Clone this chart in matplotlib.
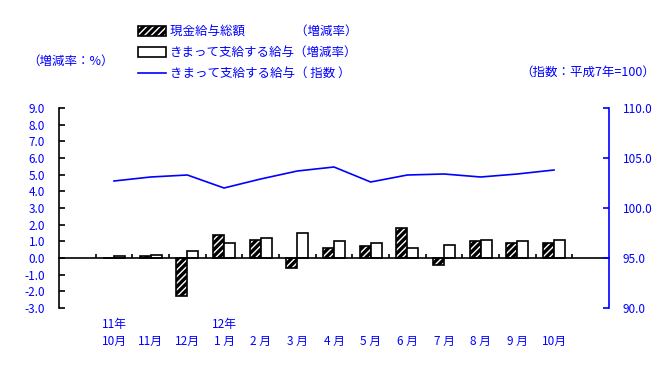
import matplotlib
matplotlib.use("Agg")
import matplotlib.pyplot as plt
import numpy as np
from matplotlib.patches import Patch
from matplotlib.lines import Line2D
from matplotlib.legend_handler import HandlerTuple

plt.rcParams['font.family'] = ['Noto Sans CJK JP', 'DejaVu Sans']
plt.rcParams['hatch.linewidth'] = 1.0

months = ['10月', '11月', '12月', '1 月', '2 月', '3 月', '4 月', '5 月',
          '6 月', '7 月', '8 月', '9 月', '10月']
years = ['11年', '', '', '12年', '', '', '', '', '', '', '', '', '']
cash_total = [0.0, 0.1, -2.3, 1.4, 1.1, -0.6, 0.6, 0.7, 1.8, -0.4, 1.0, 0.9, 0.9]
regular_rate = [0.1, 0.2, 0.4, 0.9, 1.2, 1.5, 1.0, 0.9, 0.6, 0.8, 1.1, 1.0, 1.1]
regular_index = [102.7, 103.1, 103.3, 102.0, 102.9, 103.7, 104.1, 102.6,
                 103.3, 103.4, 103.1, 103.4, 103.8]

blue = '#0000ff'
fig = plt.figure(figsize=(6.68, 3.83), dpi=100)
ax = fig.add_axes([59 / 668, 75 / 383, 550 / 668, 200 / 383])

# slots: one empty slot each side of the 13 months
x = np.arange(1, len(months) + 1) + 0.5
w = 0.3
ax.bar(x - w / 2, cash_total, w, color='black', edgecolor='white', hatch='/////', linewidth=0)
ax.bar(x - w / 2, cash_total, w, fill=False, edgecolor='black', linewidth=1.2)
ax.bar(x + w / 2, regular_rate, w, color='white', edgecolor='black', linewidth=1.2)

ax.set_xlim(0, 15)
ax.set_ylim(-3, 9)
ax.set_yticks(np.arange(-3, 10, 1))
ax.set_yticklabels(['%.1f' % v for v in np.arange(-3, 10, 1)], color=blue, fontsize=8.5)
ax.tick_params(axis='y', direction='in', length=4, width=1.2, pad=10)

for s in ['top', 'right']:
    ax.spines[s].set_visible(False)
ax.spines['left'].set_linewidth(1.2)
ax.spines['bottom'].set_position(('data', 0))
ax.spines['bottom'].set_linewidth(1.2)
ax.set_xticks(np.arange(1, 15))
ax.set_xticklabels([])
ax.tick_params(axis='x', direction='in', length=3, width=1.2)

# month labels below the plot, year marks above them
for xi, m, yr in zip(x, months, years):
    ax.text(xi, -5.0, m, ha='center', va='center', color=blue, fontsize=8.5, clip_on=False)
    if yr:
        ax.text(xi, -4.0, yr, ha='center', va='center', color=blue, fontsize=8.5, clip_on=False)

ax2 = ax.twinx()
ax2.plot(x, regular_index, color=blue, linewidth=1.2)
ax2.set_ylim(90, 110)
ax2.set_yticks([90, 95, 100, 105, 110])
ax2.set_yticklabels(['90.0', '95.0', '100.0', '105.0', '110.0'], color=blue, fontsize=8.5)
ax2.tick_params(axis='y', direction='in', length=4, width=1.2, color=blue, pad=10)
for s in ['top', 'left', 'bottom']:
    ax2.spines[s].set_visible(False)
ax2.spines['right'].set_color(blue)
ax2.spines['right'].set_linewidth(1.2)

fig.text(27 / 668, 1 - 61 / 383, '（増減率：%）', color=blue, fontsize=9, va='center')
fig.text(655 / 668, 1 - 72 / 383, '（指数：平成7年=100）', color=blue, fontsize=9,
         va='center', ha='right')

h1 = (Patch(facecolor='black', edgecolor='white', hatch='/////', linewidth=0),
      Patch(fill=False, edgecolor='black', linewidth=1.2))
h2 = Patch(facecolor='white', edgecolor='black', linewidth=1.2)
h3 = Line2D([], [], color=blue, linewidth=1.2)
leg = fig.legend([h1, h2, h3],
                 ['現金給与総額\u3000\u3000\u3000\u3000（増減率）',
                  'きまって支給する給与（増減率）',
                  'きまって支給する給与（ 指数 ）'],
                 handler_map={tuple: HandlerTuple(ndivide=1, pad=0)},
                 loc='upper left', bbox_to_anchor=(138 / 668, 1 - 25 / 383),
                 frameon=False, fontsize=9, handlelength=2.2, handleheight=0.85,
                 handletextpad=0.35, labelspacing=0.65, borderaxespad=0, borderpad=0)
for t in leg.get_texts():
    t.set_color(blue)

fig.savefig('out.png', dpi=100)
